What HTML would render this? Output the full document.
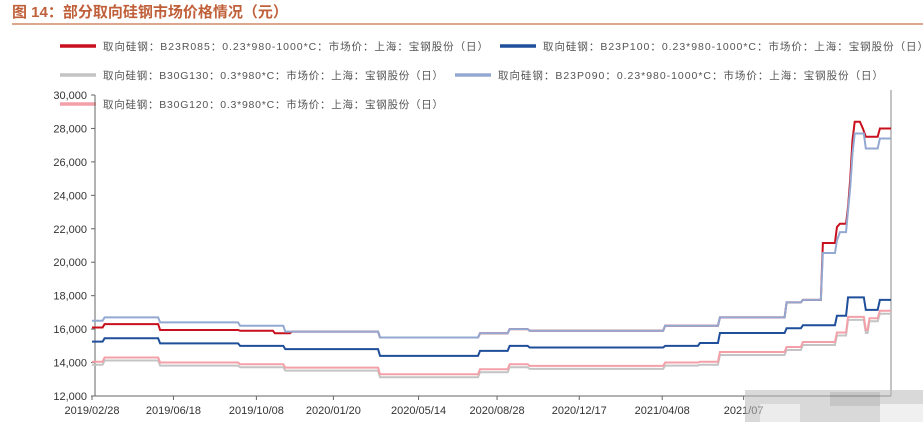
<!DOCTYPE html>
<html><head><meta charset="utf-8">
<style>
body{margin:0;background:#fff;width:923px;height:422px;overflow:hidden;font-family:"Liberation Sans","Noto Sans CJK SC",sans-serif;}
</style></head>
<body>
<svg id="chart" width="923" height="422" xmlns="http://www.w3.org/2000/svg" style="position:absolute;left:0;top:0">
<text x="12" y="17" font-size="15" font-weight="bold" fill="#c0603a" font-family="Liberation Sans,Noto Sans CJK SC,sans-serif">图 14：部分取向硅钢市场价格情况（元）</text>
<line x1="12" y1="24" x2="923" y2="24" stroke="#d08a6a" stroke-width="1.5"/>
<g id="legend"></g>
<g id="axes"></g>
<g id="series"></g>
<g opacity="0.55">
<rect x="745" y="390" width="178" height="32" fill="#bbb"/>
<rect x="760" y="404" width="40" height="18" fill="#ddd"/>
<rect x="830" y="392" width="50" height="14" fill="#999"/>
<rect x="880" y="404" width="43" height="18" fill="#e4e4e4"/>
</g>
</svg>
<script>
// days since 2019-02-28
const yTicks=[12000,14000,16000,18000,20000,22000,24000,26000,28000,30000];
const xTickLabels=["2019/02/28","2019/06/18","2019/10/08","2020/01/20","2020/05/14","2020/08/28","2020/12/17","2021/04/08","2021/07"];
const xTickDays=[0,110,222,326,441,547,658,770,880];
const lbDays=[0,17,78,92,186,200,247,261,382,389,517,524,564,591,767,774,821,848,938,960,987,1006,1010,1021,1024,1027,1030,1037,1045,1061,1064,1079];
const lbVals=[16500,16700,16700,16400,16400,16200,16200,15850,15850,15500,15500,15750,16000,15900,15900,16200,16200,16700,17600,17750,20550,21300,21800,23100,24500,26500,27700,27700,26800,26800,27400,27400];
const redDays=[0,17,78,92,186,200,247,270,382,389,517,524,564,591,767,774,821,848,938,960,987,1006,1010,1021,1024,1027,1030,1037,1041,1045,1061,1064,1079];
const redVals=[16100,16300,16300,15950,15950,15900,15750,15850,15850,15500,15500,15750,16000,15900,15900,16200,16200,16700,17600,17750,21150,22100,22300,23300,25000,27300,28400,28400,28000,27500,27500,28000,28000];
const dbDays=[0,17,78,92,186,200,247,261,382,389,517,524,564,591,767,774,821,848,938,960,1006,1021,1037,1045,1061,1064,1079];
const dbVals=[15250,15450,15450,15150,15150,15000,15000,14800,14800,14400,14400,14700,15000,14900,14900,15000,15170,15770,16050,16230,16800,17900,17900,17150,17150,17750,17750];
const pkDays=[0,17,78,92,186,200,247,261,382,389,517,524,564,591,767,774,821,848,938,960,1006,1021,1037,1045,1050,1061,1064,1079];
const pkVals=[14050,14300,14300,14000,14000,13900,13900,13700,13700,13300,13300,13600,13900,13800,13800,14000,14050,14630,14930,15230,15800,16730,16730,15950,16650,16650,17100,17100];
const gyOffset=[-180];
const ns="http://www.w3.org/2000/svg";
const X0=92,X1=891,Y0=396,Y1=95,D1=1079,V0=12000,V1=30000;
const xs=d=>X0+(d/D1)*(X1-X0);
const ys=v=>Y0-(v-V0)/(V1-V0)*(Y0-Y1);
function mk(t,a,p){const e=document.createElementNS(ns,t);for(const k in a)e.setAttribute(k,a[k]);p.appendChild(e);return e;}
const ax=document.getElementById('axes');
let l=mk('line',{x1:95,y1:Y1,x2:95,y2:Y0,stroke:'#666'},ax);


l=mk('line',{x1:95,y1:Y0,x2:X1,y2:Y0,stroke:'#666'},ax);


l=mk('line',{x1:X1,y1:Y1-5,x2:X1,y2:Y0,stroke:'#888'},ax);


yTicks.forEach(v=>{
 mk('line',{x1:91,y1:ys(v),x2:95,y2:ys(v),stroke:'#666'},ax);
 const t=mk('text',{x:87,y:ys(v)+4,'text-anchor':'end','font-size':11,fill:'#333'},ax);
 t.textContent=v.toLocaleString('en-US');
 
 
});
xTickDays.forEach((d,i)=>{
 mk('line',{x1:xs(d),y1:Y0,x2:xs(d),y2:Y0+4,stroke:'#666'},ax);
 const t=mk('text',{x:xs(d),y:Y0+18,'text-anchor':'middle','font-size':11,fill:'#333'},ax);
 t.textContent=xTickLabels[i];
 
 
});
const sg=document.getElementById('series');
function path(days,vals,off,color,name){
 let d='';
 days.forEach((dd,i)=>{const x=xs(dd),y=ys(vals[i]+off);
  if(i==0)d+='M'+x+','+y;
  else{const step=(dd-days[i-1])>4;d+=(step?'H'+(x-2)+'L'+x+','+y:'L'+x+','+y);}
 });
 const p=mk('path',{d:d,fill:'none',stroke:color,'stroke-width':2},sg);
 
 
}
path(pkDays,pkVals,gyOffset[0],'#c4c4c4','line-b30g130');
path(pkDays,pkVals,0,'#f3a0a8','line-b30g120');
path(dbDays,dbVals,0,'#1f4e9a','line-b23p100');
path(redDays,redVals,0,'#c8101e','line-b23r085');
path(lbDays,lbVals,0,'#93a9d2','line-b23p090');
const lg=document.getElementById('legend');
const items=[[60,46,'#c8101e','取向硅钢：B23R085：0.23*980-1000*C：市场价：上海：宝钢股份（日）',385],
[500,46,'#1f4e9a','取向硅钢：B23P100：0.23*980-1000*C：市场价：上海：宝钢股份（日）',385],
[60,75,'#c4c4c4','取向硅钢：B30G130：0.3*980*C：市场价：上海：宝钢股份（日）',340],
[455,75,'#93a9d2','取向硅钢：B23P090：0.23*980-1000*C：市场价：上海：宝钢股份（日）',385],
[60,104,'#f3a0a8','取向硅钢：B30G120：0.3*980*C：市场价：上海：宝钢股份（日）',340]];
items.forEach(it=>{
 const g=mk('g',{},lg);
 
 
 mk('line',{x1:it[0],y1:it[1],x2:it[0]+36,y2:it[1],stroke:it[2],'stroke-width':3.5},g);
 const t=mk('text',{x:it[0]+43,y:it[1]+4,'font-size':10.5,fill:'#555',textLength:it[4],lengthAdjust:'spacing'},g);
 t.textContent=it[3];
});
</script>
</body></html>
